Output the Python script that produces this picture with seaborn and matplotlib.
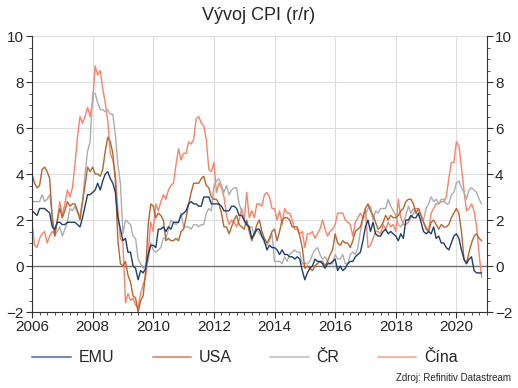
import numpy as np
import pandas as pd
import matplotlib
matplotlib.use("Agg")
import matplotlib.pyplot as plt
import seaborn as sns
from matplotlib.ticker import MultipleLocator
from matplotlib.lines import Line2D

start_year = 2006
series_names = ["EMU", "USA", "ČR", "Čína"]

emu = [2.4, 2.3, 2.2, 2.5, 2.5, 2.5, 2.4, 2.3, 1.7, 1.6, 1.9, 1.9,
       1.8, 1.8, 1.9, 1.9, 1.9, 1.9, 1.8, 1.7, 2.1, 2.6, 3.1, 3.1,
       3.2, 3.3, 3.6, 3.3, 3.7, 4.0, 4.1, 3.8, 3.6, 3.2, 2.1, 1.6,
       1.1, 1.2, 0.6, 0.6, 0.0, -0.1, -0.6, -0.2, -0.3, -0.1, 0.5, 0.9,
       0.9, 0.8, 1.6, 1.6, 1.7, 1.5, 1.7, 1.6, 1.9, 1.9, 1.9, 2.2,
       2.3, 2.4, 2.7, 2.8, 2.7, 2.7, 2.6, 2.6, 3.0, 3.0, 3.0, 2.7,
       2.7, 2.7, 2.7, 2.6, 2.4, 2.4, 2.4, 2.6, 2.6, 2.5, 2.2, 2.2,
       2.0, 1.8, 1.7, 1.2, 1.4, 1.6, 1.6, 1.3, 1.1, 0.7, 0.9, 0.8,
       0.8, 0.7, 0.5, 0.7, 0.5, 0.5, 0.4, 0.4, 0.3, 0.4, 0.3, -0.2,
       -0.6, -0.3, -0.1, 0.0, 0.3, 0.2, 0.2, 0.1, -0.1, 0.1, 0.1, 0.2,
       0.3, -0.2, 0.0, -0.2, -0.1, 0.1, 0.2, 0.2, 0.4, 0.5, 0.6, 1.1,
       1.7, 2.0, 1.5, 1.9, 1.4, 1.3, 1.3, 1.5, 1.6, 1.4, 1.5, 1.4,
       1.3, 1.1, 1.4, 1.2, 2.0, 2.0, 2.2, 2.1, 2.1, 2.3, 1.9, 1.5,
       1.4, 1.5, 1.4, 1.7, 1.2, 1.3, 1.0, 1.0, 0.8, 0.7, 1.0, 1.3,
       1.4, 1.2, 0.7, 0.3, 0.1, 0.3, 0.4, -0.2, -0.3, -0.3, -0.3]

usa = [4.0, 3.6, 3.4, 3.5, 4.2, 4.3, 4.1, 3.8, 2.1, 1.3, 2.0, 2.5,
       2.1, 2.4, 2.8, 2.6, 2.7, 2.7, 2.4, 2.0, 2.8, 3.5, 4.3, 4.1,
       4.3, 4.0, 4.0, 3.9, 4.2, 5.0, 5.6, 5.4, 4.9, 3.7, 1.1, 0.1,
       0.0, 0.2, -0.4, -0.7, -1.3, -1.4, -2.0, -1.5, -1.3, -0.2, 1.8, 2.7,
       2.6, 2.1, 2.3, 2.2, 2.0, 1.1, 1.2, 1.1, 1.1, 1.2, 1.1, 1.5,
       1.6, 2.1, 2.7, 3.2, 3.6, 3.6, 3.6, 3.8, 3.9, 3.5, 3.4, 3.0,
       2.9, 2.9, 2.7, 2.3, 1.7, 1.7, 1.4, 1.7, 2.0, 2.2, 1.8, 1.7,
       1.6, 2.0, 1.5, 1.1, 1.4, 1.8, 2.0, 1.5, 1.2, 1.0, 1.2, 1.5,
       1.6, 1.1, 1.5, 2.0, 2.1, 2.1, 2.0, 1.7, 1.7, 1.7, 1.3, 0.8,
       -0.1, 0.0, -0.1, -0.2, 0.0, 0.1, 0.2, 0.2, 0.0, 0.2, 0.5, 0.7,
       1.4, 1.0, 0.9, 1.1, 1.0, 1.0, 0.8, 1.1, 1.5, 1.6, 1.7, 2.1,
       2.5, 2.7, 2.4, 2.2, 1.9, 1.6, 1.7, 1.9, 2.2, 2.0, 2.2, 2.1,
       2.1, 2.2, 2.4, 2.5, 2.8, 2.9, 2.9, 2.7, 2.3, 2.5, 2.2, 1.9,
       1.6, 1.5, 1.9, 2.0, 1.8, 1.6, 1.8, 1.7, 1.7, 1.8, 2.1, 2.3,
       2.5, 2.3, 1.5, 0.3, 0.1, 0.6, 1.0, 1.3, 1.4, 1.2, 1.1]

cr = [2.8, 2.8, 2.8, 2.8, 3.1, 2.8, 2.9, 3.1, 2.2, 1.3, 1.5, 1.7,
      1.3, 1.6, 1.9, 2.5, 2.4, 2.6, 2.3, 2.2, 2.8, 4.0, 5.0, 5.4,
      7.5, 7.5, 7.1, 6.8, 6.8, 6.7, 6.8, 6.6, 6.6, 5.7, 4.4, 3.6,
      1.4, 2.0, 1.9, 1.8, 1.3, 1.2, 0.3, 0.1, -0.1, 0.0, 0.2, 1.0,
      0.7, 0.6, 0.7, 0.8, 1.2, 1.2, 1.6, 2.0, 1.9, 1.8, 1.9, 2.3,
      1.7, 1.7, 1.7, 1.6, 1.8, 1.8, 1.7, 1.8, 1.8, 2.3, 2.5, 2.4,
      3.5, 3.7, 3.8, 3.5, 3.2, 3.5, 3.1, 3.3, 3.4, 3.4, 2.7, 2.4,
      1.9, 1.8, 1.7, 1.7, 1.3, 1.6, 1.4, 1.3, 1.0, 0.9, 1.1, 1.4,
      0.2, 0.2, 0.2, 0.1, 0.4, 0.2, 0.5, 0.6, 0.7, 0.6, 0.6, 0.1,
      0.1, 0.1, 0.2, 0.5, 0.7, 0.8, 0.5, 0.3, 0.4, 0.2, 0.1, 0.1,
      0.5, 0.3, 0.3, 0.5, 0.1, 0.1, 0.5, 0.6, 0.5, 0.8, 1.5, 2.0,
      2.2, 2.5, 2.6, 2.0, 2.4, 2.3, 2.5, 2.5, 2.5, 2.9, 2.6, 2.4,
      2.2, 1.8, 1.7, 1.9, 2.2, 2.6, 2.3, 2.5, 2.3, 2.2, 2.0, 2.0,
      2.5, 2.7, 3.0, 2.8, 2.9, 2.7, 2.9, 2.9, 2.7, 2.7, 3.1, 3.2,
      3.6, 3.7, 3.4, 3.2, 2.9, 3.3, 3.4, 3.3, 3.2, 2.9, 2.7]

china = [1.9, 0.9, 0.8, 1.2, 1.4, 1.5, 1.0, 1.3, 1.5, 1.4, 1.9, 2.8,
         2.2, 2.7, 3.3, 3.0, 3.4, 4.4, 5.6, 6.5, 6.2, 6.5, 6.9, 6.5,
         7.1, 8.7, 8.3, 8.5, 7.7, 7.1, 6.3, 4.9, 4.6, 4.0, 2.4, 1.2,
         1.0, -1.6, -1.2, -1.5, -1.4, -1.7, -1.8, -1.2, -0.8, -0.5, 0.6, 1.9,
         1.5, 2.7, 2.4, 2.8, 3.1, 2.9, 3.3, 3.5, 3.6, 4.4, 5.1, 4.6,
         4.9, 4.9, 5.4, 5.3, 5.5, 6.4, 6.5, 6.2, 6.1, 5.5, 4.2, 4.1,
         4.5, 3.2, 3.6, 3.4, 3.0, 2.2, 1.8, 2.0, 1.9, 1.7, 2.0, 2.5,
         2.0, 3.2, 2.1, 2.4, 2.1, 2.7, 2.7, 2.6, 3.1, 3.2, 3.0, 2.5,
         2.5, 2.0, 2.4, 1.8, 2.5, 2.3, 2.3, 2.0, 1.6, 1.6, 1.4, 1.5,
         0.8, 1.4, 1.4, 1.5, 1.2, 1.4, 1.6, 2.0, 1.6, 1.3, 1.5, 1.6,
         1.8, 2.3, 2.3, 2.3, 2.0, 1.9, 1.8, 1.3, 1.9, 2.1, 2.3, 2.1,
         2.5, 0.8, 0.9, 1.2, 1.5, 1.5, 1.4, 1.8, 1.6, 1.9, 1.7, 1.8,
         1.5, 2.9, 2.1, 1.8, 1.8, 1.9, 2.1, 2.3, 2.5, 2.5, 2.2, 1.9,
         1.7, 1.5, 2.3, 2.5, 2.7, 2.7, 2.8, 2.8, 3.0, 3.8, 4.5, 4.5,
         5.4, 5.2, 4.3, 3.3, 2.4, 2.5, 2.7, 2.4, 1.7, 0.5, -0.5]

y_ticks = [-2, 0, 2, 4, 6, 8, 10]
x_ticks = [2006, 2008, 2010, 2012, 2014, 2016, 2018, 2020]

colors = {"EMU": "#1c3f6e", "USA": "#b5652f", "ČR": "#adadad", "Čína": "#f5846c"}

frames = []
for name, vals in zip(series_names, [emu, usa, cr, china]):
    t = start_year + np.arange(len(vals)) / 12.0
    frames.append(pd.DataFrame({"t": t, "v": vals, "s": name}))
df = pd.concat(frames, ignore_index=True)

sns.set_style("white")
plt.rcParams['font.family'] = ['Liberation Sans', 'DejaVu Sans']

fig = plt.figure(figsize=(5.18, 3.88), dpi=100)
ax = fig.add_axes([32/518, 1-312/388, (486.7-32)/518, (312-36)/388])

order = ["Čína", "ČR", "USA", "EMU"]
for name in order:
    sub = df[df.s == name]
    sns.lineplot(data=sub, x="t", y="v", color=colors[name], lw=1.0, ax=ax,
                 legend=False)

ax.set_xlim(2006, 2021)
ax.set_ylim(-2, 10)
ax.set_xticks(x_ticks)
ax.set_yticks(y_ticks)
ax.xaxis.set_minor_locator(MultipleLocator(0.25))
ax.yaxis.set_minor_locator(MultipleLocator(0.5))
ax.grid(True, which="major", color="#dddddd", lw=0.8)
ax.set_axisbelow(True)
ax.axhline(0, color="#707070", lw=1.0, zorder=1.5)
ax.set_xlabel("")
ax.set_ylabel("")
ax.spines["top"].set_visible(False)
for side in ["left", "right", "bottom"]:
    ax.spines[side].set_visible(True)
    ax.spines[side].set_color("#333333")
    ax.spines[side].set_linewidth(0.8)
ax.tick_params(axis="both", which="major", direction="out", length=4, width=0.8,
               color="#333333", labelsize=11, pad=2)
ax.tick_params(axis="both", which="minor", direction="out", length=2, width=0.6,
               color="#333333")
ax.tick_params(axis="y", which="both", left=True, right=True, labelleft=True,
               labelright=True)
ax.tick_params(axis="x", which="both", bottom=True)

fig.text(0.5, 1-15/388, "Vývoj CPI (r/r)", ha="center", va="center", fontsize=13)

handles = [Line2D([0], [0], color=colors[n], lw=1.5, alpha=0.6) for n in series_names]
fig.legend(handles, series_names, loc="center", bbox_to_anchor=(245/518, 1-358/388),
           ncol=4, frameon=False, fontsize=11.5, handlelength=2.4,
           columnspacing=2.4, handletextpad=0.5)

fig.text(1-7/518, 1-378/388, "Zdroj: Refinitiv Datastream", ha="right",
         va="center", fontsize=7)

fig.savefig("out.png", dpi=100)
